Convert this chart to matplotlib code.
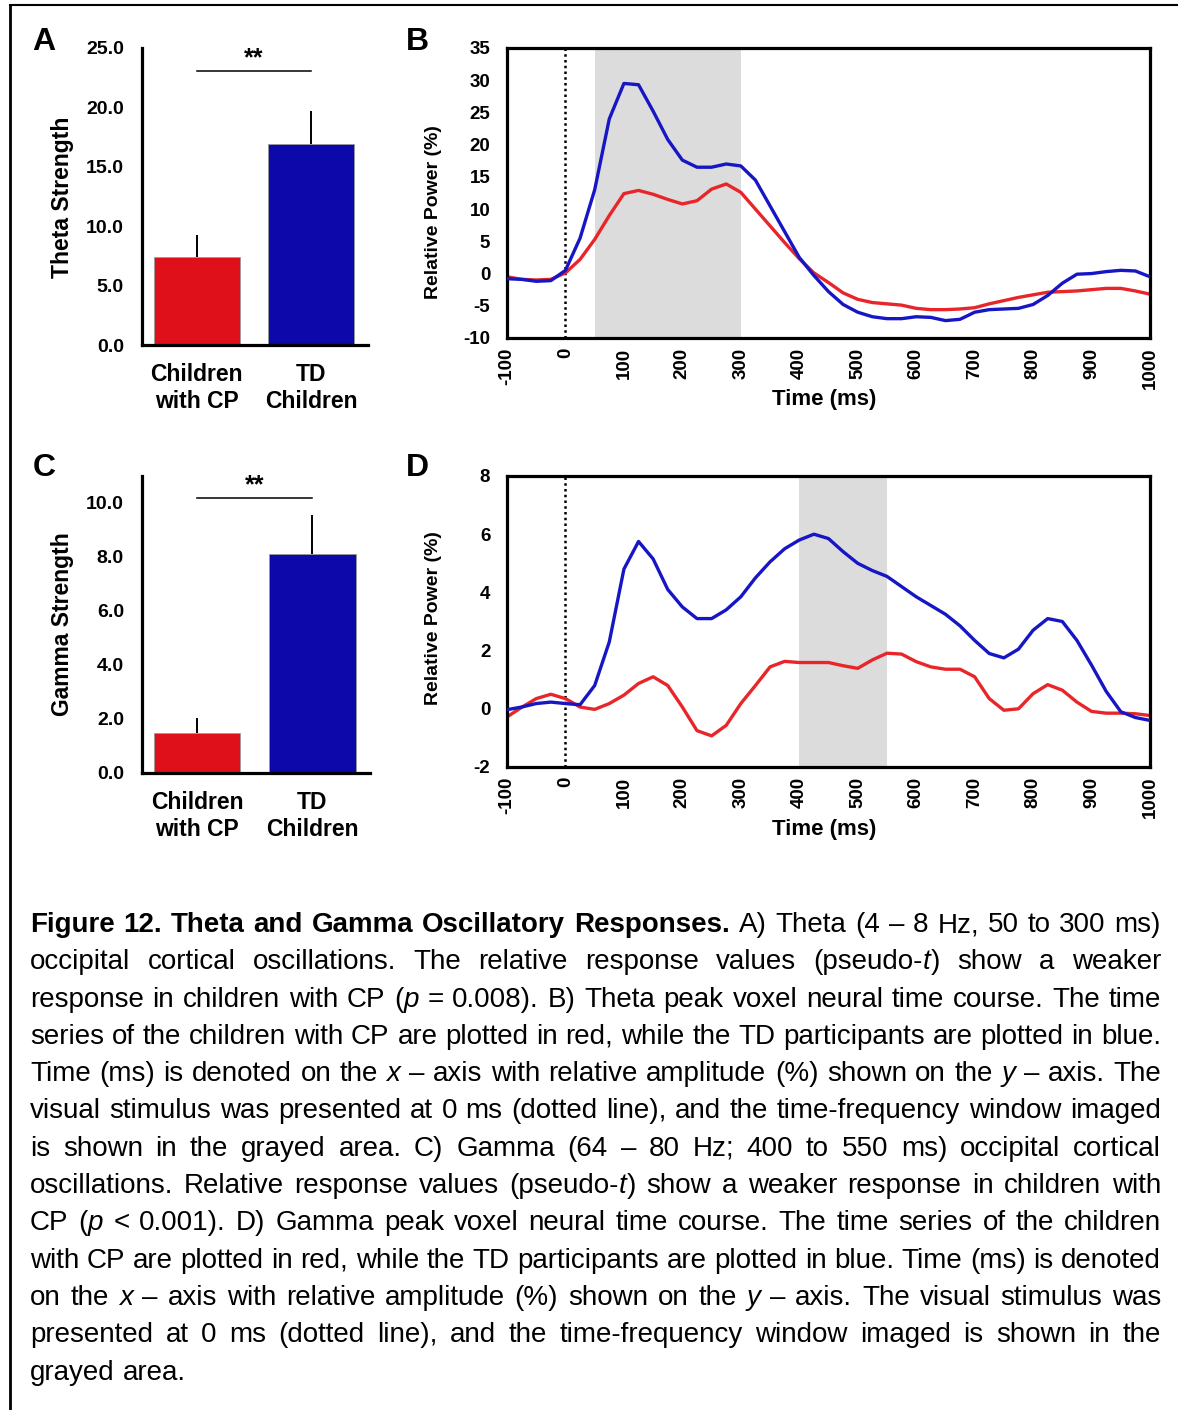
import matplotlib
matplotlib.use("Agg")
import matplotlib.pyplot as plt
from matplotlib.lines import Line2D

plt.rcParams['font.family'] = ['Liberation Sans', 'DejaVu Sans']

# ---- data ----
groups = ["Children\nwith CP", "TD\nChildren"]
theta_strength = [7.4, 16.9]
theta_err = [1.9, 2.8]
gamma_strength = [1.48, 8.1]
gamma_err = [0.55, 1.45]

time_ms = [-100, -75, -50, -25, 0, 25, 50, 75, 100, 125, 150, 175, 200, 225, 250,
           275, 300, 325, 350, 375, 400, 425, 450, 475, 500, 525, 550, 575, 600,
           625, 650, 675, 700, 725, 750, 775, 800, 825, 850, 875, 900, 925, 950,
           975, 1000]

theta_td = [-0.8, -0.9, -1.2, -1.1, 0.5, 5.5, 13.0, 24.0, 29.5, 29.3, 25.2, 20.8,
            17.6, 16.5, 16.5, 17.0, 16.7, 14.5, 10.5, 6.5, 2.5, -0.3, -2.8, -4.8,
            -6.0, -6.7, -7.0, -7.0, -6.7, -6.8, -7.3, -7.1, -6.0, -5.6, -5.5, -5.4,
            -4.8, -3.4, -1.5, -0.1, 0.0, 0.3, 0.5, 0.4, -0.5]
theta_cp = [-0.5, -0.9, -1.0, -0.9, 0.1, 2.2, 5.3, 9.0, 12.4, 12.9, 12.3, 11.5,
            10.8, 11.3, 13.1, 13.9, 12.6, 10.0, 7.4, 4.8, 2.3, 0.1, -1.4, -3.0,
            -4.0, -4.5, -4.7, -4.9, -5.4, -5.6, -5.6, -5.5, -5.3, -4.7, -4.2, -3.7,
            -3.3, -2.9, -2.8, -2.7, -2.5, -2.3, -2.3, -2.7, -3.2]

gamma_td = [-0.03, 0.06, 0.18, 0.23, 0.18, 0.14, 0.8, 2.3, 4.8, 5.75, 5.15, 4.1,
            3.5, 3.1, 3.1, 3.4, 3.85, 4.5, 5.05, 5.5, 5.8, 6.0, 5.85, 5.4, 5.0,
            4.75, 4.55, 4.2, 3.85, 3.55, 3.25, 2.85, 2.35, 1.9, 1.75, 2.05, 2.7,
            3.1, 3.0, 2.35, 1.5, 0.6, -0.1, -0.3, -0.4]
gamma_cp = [-0.28, 0.05, 0.35, 0.5, 0.35, 0.06, -0.02, 0.18, 0.47, 0.87, 1.1, 0.8,
            0.06, -0.75, -0.93, -0.57, 0.18, 0.8, 1.44, 1.63, 1.59, 1.59, 1.59,
            1.48, 1.39, 1.68, 1.91, 1.88, 1.62, 1.44, 1.36, 1.36, 1.1, 0.35, -0.05,
            0.0, 0.52, 0.83, 0.64, 0.23, -0.09, -0.15, -0.15, -0.17, -0.23]

theta_window = (50, 300)
gamma_window = (400, 550)

RED, BLUE = '#E0101A', '#0C08AA'
RED_LINE, BLUE_LINE = '#E8262A', '#1616C4'

W, H = 1178, 1410
fig = plt.figure(figsize=(W / 100, H / 100), dpi=100)


def box(l, t, r, b):
    return [l / W, 1 - b / H, (r - l) / W, (b - t) / H]


def ftext(x, y, s, **kw):
    return fig.text(x / W, 1 - y / H, s, **kw)


def bar_panel(rect, vals, errs, ylim, yticks, sig_y):
    ax = fig.add_axes(box(*rect))
    ax.bar([0, 1], vals, width=0.75, color=[RED, BLUE], edgecolor='#999999',
           linewidth=0.6, zorder=2)
    ax.errorbar([0, 1], vals, yerr=[[0, 0], errs], fmt='none', ecolor='black',
                elinewidth=1.4, capsize=0, zorder=3)
    ax.set_xlim(-0.48, 1.5)
    ax.set_ylim(*ylim)
    ax.set_yticks(yticks)
    ax.set_yticklabels([f'{v:.1f}' for v in yticks], fontsize=14, fontweight='bold')
    ax.set_xticks([0, 1])
    ax.set_xticklabels(groups, fontsize=16.5, fontweight='bold')
    ax.tick_params(axis='y', length=0, pad=13)
    ax.tick_params(axis='x', length=0, pad=13)
    for s in ['top', 'right']:
        ax.spines[s].set_visible(False)
    for s in ['left', 'bottom']:
        ax.spines[s].set_linewidth(2.3)
    ax.plot([0, 1], [sig_y, sig_y], color='black', lw=1.1, clip_on=False)
    ax.text(0.5, sig_y, '**', ha='center', va='bottom', fontsize=18,
            fontweight='bold')
    return ax


def time_panel(rect, cp, td, ylim, yticks, window):
    ax = fig.add_axes(box(*rect))
    ax.axvspan(window[0], window[1], color='#DCDCDC', lw=0, zorder=0)
    ax.axvline(0, color='black', ls=(0, (1, 1.3)), lw=1.8, zorder=1)
    ax.plot(time_ms, td, color=BLUE_LINE, lw=2.4, zorder=3)
    ax.plot(time_ms, cp, color=RED_LINE, lw=2.4, zorder=2)
    ax.set_xlim(-100, 1000)
    ax.set_ylim(*ylim)
    xt = list(range(-100, 1001, 100))
    ax.set_xticks(xt)
    ax.set_xticklabels([str(v) for v in xt], rotation=90, fontsize=13.5,
                       fontweight='bold')
    ax.set_yticks(yticks)
    ax.set_yticklabels([str(v) for v in yticks], fontsize=13.5, fontweight='bold')
    ax.tick_params(axis='y', length=0, pad=12)
    ax.tick_params(axis='x', length=0, pad=7)
    for s in ax.spines.values():
        s.set_linewidth(2.3)
    return ax


# A / C bar charts
bar_panel((142, 48, 368, 345), theta_strength, theta_err, (0, 25),
          [0, 5, 10, 15, 20, 25], 23.1)
bar_panel((142, 476, 370, 773), gamma_strength, gamma_err, (0, 11),
          [0, 2, 4, 6, 8, 10], 10.2)

# B / D time courses
time_panel((507, 48, 1150, 338), theta_cp, theta_td, (-10, 35),
           list(range(-10, 36, 5)), theta_window)
time_panel((507, 476, 1150, 767), gamma_cp, gamma_td, (-2, 8),
           [-2, 0, 2, 4, 6, 8], gamma_window)

# axis titles
lab = dict(fontweight='bold', ha='center', va='center')
ftext(62, 197, 'Theta Strength', rotation=90, fontsize=16.5, **lab)
ftext(62, 624, 'Gamma Strength', rotation=90, fontsize=16.5, **lab)
ftext(434, 212, 'Relative Power (%)', rotation=90, fontsize=14, **lab)
ftext(434, 618, 'Relative Power (%)', rotation=90, fontsize=14, **lab)
ftext(824, 400, 'Time (ms)', fontsize=16, **lab)
ftext(824, 829, 'Time (ms)', fontsize=16, **lab)

# panel letters
for letter, x, y in [('A', 44, 42), ('B', 417, 42), ('C', 44, 468), ('D', 417, 468)]:
    ftext(x, y, letter, fontsize=23, **lab)

# frame lines
fig.add_artist(Line2D([10 / W, 1], [1 - 5 / H, 1 - 5 / H], color='black', lw=1.5,
                      transform=fig.transFigure))
fig.add_artist(Line2D([10 / W, 10 / W], [1 - 5 / H, 0], color='black', lw=2,
                      transform=fig.transFigure))

# caption, justified line by line
caption = [
    [("Figure 12. Theta and Gamma Oscillatory Responses.", 'b'),
     (" A) Theta (4 – 8 Hz, 50 to 300 ms)", 'n')],
    [("occipital cortical oscillations. The relative response values (pseudo-", 'n'),
     ("t", 'i'), (") show a weaker", 'n')],
    [("response in children with CP (", 'n'), ("p", 'i'),
     (" = 0.008). B) Theta peak voxel neural time course. The time", 'n')],
    [("series of the children with CP are plotted in red, while the TD participants are plotted in blue.", 'n')],
    [("Time (ms) is denoted on the ", 'n'), ("x", 'i'),
     (" – axis with relative amplitude (%) shown on the ", 'n'), ("y", 'i'),
     (" – axis. The", 'n')],
    [("visual stimulus was presented at 0 ms (dotted line), and the time-frequency window imaged", 'n')],
    [("is shown in the grayed area. C) Gamma (64 – 80 Hz; 400 to 550 ms) occipital cortical", 'n')],
    [("oscillations. Relative response values (pseudo-", 'n'), ("t", 'i'),
     (") show a weaker response in children with", 'n')],
    [("CP (", 'n'), ("p", 'i'),
     (" < 0.001). D) Gamma peak voxel neural time course. The time series of the children", 'n')],
    [("with CP are plotted in red, while the TD participants are plotted in blue. Time (ms) is denoted", 'n')],
    [("on the ", 'n'), ("x", 'i'),
     (" – axis with relative amplitude (%) shown on the ", 'n'), ("y", 'i'),
     (" – axis. The visual stimulus was", 'n')],
    [("presented at 0 ms (dotted line), and the time-frequency window imaged is shown in the", 'n')],
    [("grayed area.", 'n')],
]

renderer = fig.canvas.get_renderer()
x_left, x_right = 30, 1161
for i, runs in enumerate(caption):
    y = 932 + i * 37.3
    words, cur = [], []
    for text, st in runs:
        for j, part in enumerate(text.split(' ')):
            if j > 0 and cur:
                words.append(cur)
                cur = []
            if part:
                cur.append((part, st))
    if cur:
        words.append(cur)
    items = []
    for w in words:
        pieces = []
        for part, st in w:
            t = ftext(0, y, part, fontsize=20, va='baseline',
                      fontweight='bold' if st == 'b' else 'normal',
                      fontstyle='italic' if st == 'i' else 'normal')
            pieces.append((t, t.get_window_extent(renderer).width))
        items.append(pieces)
    widths = [sum(pw for _, pw in p) for p in items]
    if i == len(caption) - 1:
        gap = 7.8
    else:
        gap = (x_right - x_left - sum(widths)) / (len(items) - 1)
    x = x_left
    for pieces in items:
        for t, pw in pieces:
            t.set_x(x / W)
            x += pw
        x += gap

fig.savefig('out.png', dpi=100)
